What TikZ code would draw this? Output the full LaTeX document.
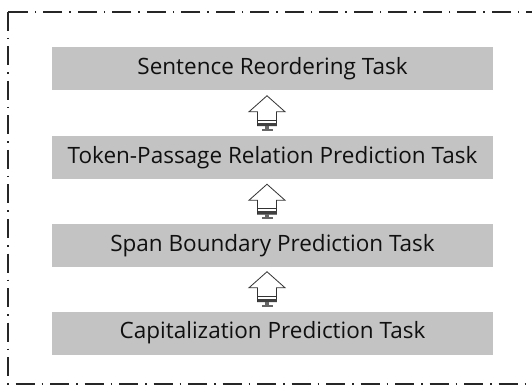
\documentclass[tikz,border=0pt]{standalone}
\usepackage{fontspec}
\setmainfont{Open Sans}
\usetikzlibrary{calc}
\definecolor{boxgray}{HTML}{C3C3C3}
\definecolor{textc}{HTML}{101010}
\tikzset{
  taskbox/.style={fill=boxgray, minimum width=441pt, minimum height=43pt, inner sep=0pt,
    text=textc, font=\fontsize{22.5}{26}\selectfont},
  framestyle/.style={draw=black!85, line width=1.4pt,
    dash pattern=on 19pt off 7pt on 1.5pt off 7pt},
  arrowline/.style={draw=black!80, line width=0.8pt, line join=miter},
  blockarrow/.pic={
    \draw[arrowline, fill=white] (0,0) -- (18,16) -- (9.5,16) -- (9.5,30) -- (-9.5,30)
      -- (-9.5,16) -- (-18,16) -- cycle;
    \draw[line width=1pt, black!80] (-9.5,24.5) -- (9.5,24.5);
    \fill[black!75] (-9.5,26.8) rectangle (9.5,30);
    \fill[black!60] (-2,30) rectangle (2,33);
    \fill[black!60] (-5.5,33) rectangle (5.5,35);
  }
}
\begin{document}
\begin{tikzpicture}[x=1pt, y=-1pt]
  \useasboundingbox (0,0) rectangle (532,387);
  \fill[white] (0,0) rectangle (532,387);
  \begin{scope}
    \clip (0,0) rectangle (532,387);
    \draw[framestyle] (8,12) rectangle (560,384);
  \end{scope}
  \node[taskbox] (b1) at (272.5,68.5) {Sentence Reordering Task};
  \node[taskbox] (b2) at (272.5,158) {Token-Passage Relation Prediction Task};
  \node[taskbox] (b3) at (272.5,245.5) {Span Boundary Prediction Task};
  \node[taskbox] (b4) at (272.5,333) {Capitalization Prediction Task};
  \pic at ($(b1.south)!0.5!(b2.north)+(-5.5,-17.5)$) {blockarrow};
  \pic at ($(b2.south)!0.5!(b3.north)+(-5.5,-17.5)$) {blockarrow};
  \pic at ($(b3.south)!0.5!(b4.north)+(-5.5,-17.5)$) {blockarrow};
\end{tikzpicture}
\end{document}
